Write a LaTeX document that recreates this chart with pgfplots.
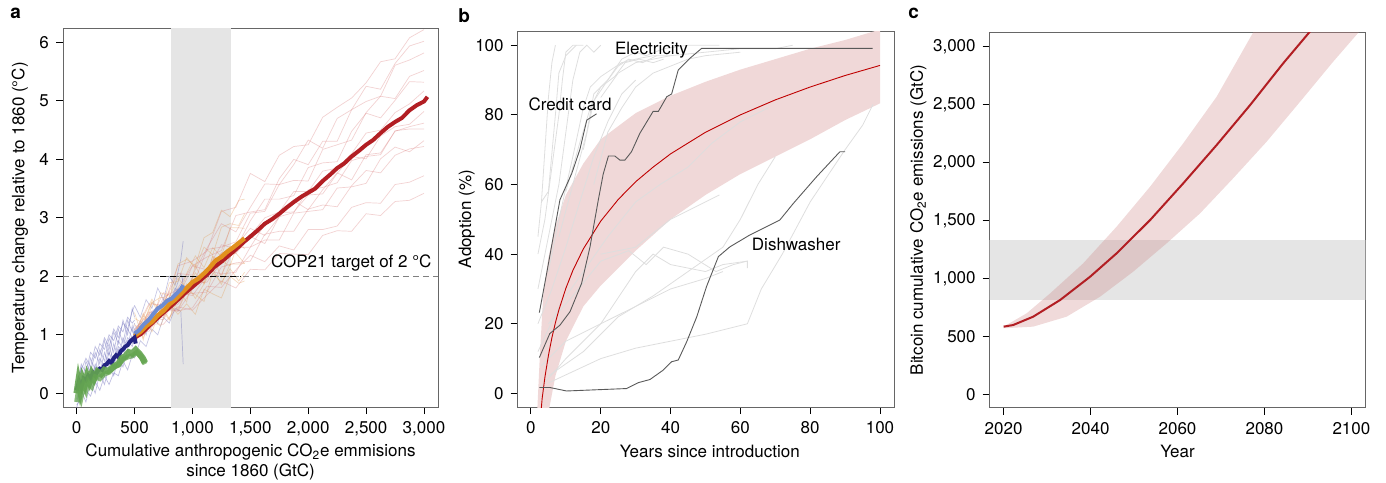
\documentclass[border=0pt]{standalone}
\usepackage{fontspec}
\setmainfont{TeX Gyre Heros}
\usepackage{pgfplots}
\usepackage{pgfplotstable}
\pgfplotsset{compat=1.18}

\definecolor{dred}{RGB}{178,30,35}
\definecolor{faintred}{RGB}{218,125,125}
\definecolor{oran}{RGB}{225,145,30}
\definecolor{faintor}{RGB}{228,155,80}
\definecolor{lblue}{RGB}{110,140,210}
\definecolor{dblue}{RGB}{35,35,130}
\definecolor{faintblue}{RGB}{95,95,180}
\definecolor{grn}{RGB}{100,165,80}
\definecolor{bandpink}{RGB}{240,216,216}
\definecolor{bandc}{RGB}{205,132,132}
\definecolor{bgray}{RGB}{229,229,229}
\definecolor{lgray}{RGB}{222,222,222}

\newcommand\lbl{\fontsize{8.5}{10}\selectfont}

\pgfplotsset{
  panel/.style={
    scale only axis, anchor=south west, clip=true,
    axis line style={draw=black!60, line width=0.5pt},
    tick style={black, line width=0.5pt},
    tick align=outside, major tick length=3.5pt,
    xtick pos=left, ytick pos=left,
    tick label style={font=\lbl},
    label style={font=\lbl},
    /pgf/number format/assume math mode=true,
    /pgf/number format/1000 sep={,},
  },
  faint/.style={line width=0.35pt, opacity=0.35},
}

% panel a ensembles
\pgfplotstableread{
x    r1   r2   r3   r4   r5   r6   r7   r8   r9   r10  r11  r12  r13
500  0.95 1.05 0.85 1.15 0.95 0.95 1.05 0.95 1.10 0.90 1.05 0.95 0.95
625  1.19 1.06 1.28 1.14 1.35 1.14 1.39 1.10 1.21 1.37 1.53 1.15 1.28
750  1.18 1.41 1.26 1.47 1.45 1.45 1.32 1.64 1.72 1.54 1.51 1.44 1.30
875  1.48 1.41 1.68 1.40 1.44 1.52 1.80 1.78 1.62 2.05 2.18 1.73 1.72
1000 1.42 1.46 1.71 1.78 1.99 1.88 2.18 1.82 2.18 2.02 2.26 1.67 1.90
1125 1.68 1.83 1.73 2.11 1.98 1.90 2.11 2.46 2.33 2.48 2.43 2.01 2.00
1250 1.92 1.81 2.16 2.04 2.03 2.24 2.54 2.50 2.44 2.90 3.11 2.40 2.40
1375 1.80 2.11 2.23 2.07 2.52 2.49 2.47 2.59 3.04 2.76 3.18 2.39 2.45
1500 2.12 2.36 2.26 2.50 2.82 2.50 2.95 3.08 3.10 3.18 3.76 2.68 2.70
1625 2.11 2.25 2.72 2.62 2.70 2.89 3.32 3.11 3.14 3.58 3.62 2.56 3.00
1750 2.39 2.52 2.77 2.62 3.02 3.09 3.32 3.57 3.67 3.57 4.07 3.02 3.10
1875 2.38 2.45 2.77 3.08 3.29 3.10 3.38 3.64 4.00 3.91 4.22 3.09 3.45
2000 2.37 2.80 3.15 3.11 3.14 3.39 3.86 3.63 3.91 4.33 4.25 3.48 3.45
2125 2.70 2.80 3.22 3.14 3.48 3.41 3.94 4.17 4.31 4.19 4.72 3.52 3.80
2250 2.78 2.86 3.19 3.51 3.77 3.76 3.96 4.25 4.31 4.70 4.89 3.60 3.85
2375 2.77 3.18 3.55 3.53 3.65 4.05 4.48 4.33 4.85 4.85 5.05 3.98 4.10
2500 3.07 3.26 3.81 3.59 4.08 4.01 4.79 4.80 4.99 5.25 5.31 4.05 4.45
2625 3.04 3.25 3.77 4.01 4.11 4.40 4.71 5.08 5.08 5.20 5.67 4.08 4.50
2750 3.28 3.57 4.07 4.21 4.48 4.56 5.01 5.04 5.61 5.64 5.72 4.49 4.80
2875 3.30 3.61 4.18 4.13 4.56 4.60 5.33 5.42 5.70 5.94 6.08 4.52 4.95
3000 3.42 3.72 4.22 4.32 4.62 4.82 5.32 5.52 5.82 6.02 6.22 4.52 5.17
}\redens

\pgfplotstableread{
x    o1   o2   o3   o4   o5   o6   o7   o8
500  1.18 0.88 1.28 0.98 0.93 1.08 1.38 0.98
575  0.95 1.28 1.20 1.33 1.30 1.17 0.91 1.37
650  1.28 1.18 1.57 1.17 1.61 1.55 1.54 1.05
725  1.15 1.53 1.33 1.72 1.38 1.64 1.47 1.44
800  1.53 1.27 1.65 1.66 1.89 1.62 1.25 1.73
875  1.35 1.62 1.97 1.56 1.91 2.21 1.78 1.41
950  1.53 1.87 1.79 2.05 2.32 2.29 1.56 1.75
1025 1.35 1.62 2.06 2.35 2.14 2.18 2.19 1.69
1100 1.78 1.87 1.88 2.15 2.50 2.66 1.87 1.57
1175 1.70 2.12 2.34 2.49 2.37 2.75 2.35 2.06
1250 1.63 1.86 2.26 2.34 2.84 3.13 1.98 1.90
1325 2.00 2.21 2.18 2.83 2.90 3.02 2.51 2.13
1400 1.88 2.21 2.60 2.83 2.87 3.30 2.34 1.92
1450 1.92 2.22 2.47 2.82 3.07 3.32 2.22 2.07
}\orens

\pgfplotstableread{
x   b1   b2    b3   b4   b5    b6   b10   b11  b12   b13
0   0.10 -0.20 0.00 0.10 -0.10 0.20 -0.25 0.30 0.05  -0.15
40  0.50 -0.10 0.30 0.00 0.20  0.40 0.05  0.10 0.45  0.15
80  0.35 0.05  0.10 0.35 0.15  0.60 -0.15 0.55 0.20  0.05
120 0.70 -0.05 0.45 0.20 0.10  0.45 0.20  0.35 0.60  0.30
160 0.60 0.20  0.25 0.50 0.45  0.80 0.00  0.70 0.40  0.15
200 0.85 0.05  0.60 0.35 0.30  0.65 0.35  0.50 0.75  0.45
240 0.75 0.30  0.45 0.70 0.40  0.95 0.15  0.90 0.55  0.30
280 1.00 0.15  0.80 0.45 0.70  0.80 0.45  0.65 0.95  0.60
320 0.90 0.35  0.55 0.85 0.50  1.10 0.30  1.05 0.70  0.45
360 1.15 0.30  0.90 0.60 0.80  0.95 0.60  0.85 1.10  0.75
400 1.05 0.55  0.75 0.95 0.70  1.20 0.45  1.25 0.85  0.60
440 1.30 0.40  1.10 0.80 0.95  1.10 0.75  1.00 1.25  0.90
480 1.20 0.65  0.95 1.15 0.85  1.40 0.60  1.45 1.05  0.80
500 1.25 0.60  1.00 0.90 1.10  1.50 0.70  1.30 1.20  0.95
}\blueensA

\pgfplotstableread{
x   b7   b8   b9   b14
500 1.50 0.60 1.10 0.90
550 1.30 0.90 1.20 1.15
600 1.60 0.80 1.00 1.05
650 1.45 1.10 1.40 1.35
700 1.80 1.00 1.30 1.20
750 1.60 1.30 1.60 1.55
800 2.00 1.20 1.50 1.45
850 1.85 1.45 1.80 1.75
900 2.30 1.40 1.70 2.05
920 2.60 0.50 2.00 1.90
}\blueensB

\begin{document}
\begin{tikzpicture}
\path[use as bounding box] (0,0) rectangle (693pt,241pt);

% ---------------- panel a
\begin{axis}[panel,
  at={(31.5pt,37.5pt)}, width=187.5pt, height=189pt,
  xmin=-118, xmax=3121, ymin=-0.235, ymax=6.23,
  xtick={0,500,...,3000}, ytick={0,1,...,6},
  xlabel={Cumulative anthropogenic CO\textsubscript{2}e emmisions\\since 1860 (GtC)},
  ylabel={Temperature change relative to 1860 (°C)},
  xlabel style={at={(axis description cs:0.5,-0.145)}, anchor=center, align=center},
  ylabel style={at={(axis description cs:-0.115,0.5)}, anchor=center},
]
\addplot[fill=bgray, draw=none] coordinates {(817,-1) (817,7) (1330,7) (1330,-1)} -- cycle;
\foreach \c in {b1,b2,b3,b4,b5,b6,b10,b11,b12,b13}{
  \addplot[faint, faintblue, opacity=0.4] table[x=x, y=\c] {\blueensA};
}
\foreach \c in {b7,b8,b9,b14}{
  \addplot[faint, faintblue] table[x=x, y=\c] {\blueensB};
}
\foreach \c in {o1,o2,o3,o4,o5,o6,o7,o8}{
  \addplot[faint, faintor] table[x=x, y=\c] {\orens};
}
\foreach \c in {r1,r2,r3,r4,r5,r6,r7,r8,r9,r10,r11,r12,r13}{
  \addplot[faint, faintred] table[x=x, y=\c] {\redens};
}
\addplot[gray, dash pattern=on 3pt off 2pt, line width=0.6pt] coordinates {(-118,2) (3121,2)};
\addplot[black, dash pattern=on 3pt off 2pt, line width=0.6pt] coordinates {(720,2) (1420,2)};
% main runs
\addplot[dred, line width=2pt] coordinates {
(500,0.95)(560,1.02)(625,1.15)(690,1.27)(750,1.38)(810,1.48)(875,1.6)(940,1.72)
(1000,1.82)(1060,1.92)(1125,2.03)(1190,2.16)(1250,2.25)(1310,2.35)(1375,2.46)
(1440,2.58)(1500,2.68)(1560,2.78)(1625,2.9)(1690,2.98)(1750,3.07)(1810,3.17)
(1875,3.27)(1940,3.36)(2000,3.43)(2060,3.5)(2125,3.63)(2190,3.74)(2250,3.85)
(2310,3.93)(2375,4.05)(2440,4.15)(2500,4.25)(2560,4.33)(2625,4.45)(2690,4.56)
(2750,4.64)(2810,4.71)(2875,4.84)(2940,4.93)(3000,4.99)(3030,5.07)};
\addplot[oran, line width=2.2pt] coordinates {
(500,0.98)(550,1.05)(600,1.15)(650,1.22)(700,1.33)(750,1.41)(800,1.52)(850,1.6)
(900,1.7)(950,1.8)(1000,1.9)(1050,1.96)(1100,2.05)(1150,2.15)(1200,2.27)
(1250,2.33)(1300,2.42)(1350,2.49)(1400,2.57)(1450,2.65)};
\addplot[lblue, line width=2pt] coordinates {
(500,1.02)(540,1.08)(580,1.18)(620,1.25)(660,1.35)(700,1.45)(740,1.5)
(780,1.58)(820,1.62)(860,1.7)(900,1.78)(920,1.85)};
\addplot[dblue, line width=2pt] coordinates {
(0,0.05)(20,0.2)(40,0.1)(60,0.25)(80,0.22)(100,0.3)(120,0.25)(140,0.35)
(160,0.3)(180,0.38)(200,0.42)(220,0.4)(240,0.48)(260,0.5)(280,0.55)(300,0.52)
(320,0.6)(340,0.65)(360,0.62)(380,0.72)(400,0.75)(420,0.8)(440,0.82)(460,0.88)
(480,0.92)(500,0.95)(510,0.85)};
\addplot[grn, line width=2.5pt, opacity=0.75] coordinates {
(0,-0.15)(20,0.1)(40,-0.05)(60,0.15)(80,0.05)(100,0.2)(130,0.12)(160,0.28)
(200,0.25)(240,0.33)(280,0.36)(320,0.45)(360,0.48)(400,0.58)(440,0.62)(480,0.64)
(520,0.7)(560,0.62)(590,0.5)};
\addplot[grn, line width=3.2pt, opacity=0.9] coordinates {
(0,0.0)(15,0.2)(30,0.05)(50,0.25)(70,0.15)(90,0.3)(110,0.2)(130,0.33)(150,0.25)
(180,0.37)(210,0.33)(240,0.4)(270,0.38)(300,0.42)(330,0.47)(360,0.5)(390,0.6)
(420,0.63)(450,0.7)(480,0.68)(510,0.74)(540,0.68)(570,0.6)(590,0.52)};
\node[font=\lbl, anchor=south east, inner sep=1pt] at (axis cs:3085,2.04) {COP21 target of 2 °C};
\end{axis}

% ---------------- panel b
\begin{axis}[panel,
  at={(258.85pt,37.5pt)}, width=188.3pt, height=187.85pt,
  xmin=-3.8, xmax=104.1, ymin=-3.9, ymax=104,
  xtick={0,20,...,100}, ytick={0,20,...,100},
  xlabel={Years since introduction},
  ylabel={Adoption (\%)},
  xlabel style={at={(axis description cs:0.51,-0.119)}, anchor=center},
  ylabel style={at={(axis description cs:-0.135,0.5)}, anchor=center},
]
\addplot[fill=bandpink, draw=none] coordinates {
(1.8,-5)(2.5,10)(3.5,28)(5,39)(7,48)(10,57)(15,66)(20,73)(30,80.5)(40,85.5)
(50,89.5)(60,93)(70,96)(80,99)(90,101.5)(100,104.5)
(100,83.3)(90,78.5)(80,73)(70,68)(60,63)(50,57)(40,50)(30,41)(20,31)(15,25)
(10,15)(7,5)(5.1,-5)} -- cycle;
% other technologies
\addplot[lgray, line width=0.4pt] coordinates {(2,45)(3,55)(4,70)(5,85)(6,95)(7,100)};
\addplot[lgray, line width=0.4pt] coordinates {(2,40)(4,50)(6,65)(8,80)(9,90)(10,98)(12,100)(15,100)};
\addplot[lgray, line width=0.4pt] coordinates {(2,30)(5,45)(8,60)(10,75)(12,90)(14,98)(16,100)(18,98)(20,100)};
\addplot[lgray, line width=0.4pt] coordinates {(3,55)(5,58)(7,80)(8,92)(10,97)(13,100)};
\addplot[lgray, line width=0.4pt] coordinates {(5,35)(8,50)(12,68)(15,82)(17,88)(20,91)(23,93)(26,95)(30,96)(35,97)(40,97)};
\addplot[lgray, line width=0.4pt] coordinates {(8,45)(12,60)(16,75)(18,86)(22,90)(25,94)(28,96)(32,95)(36,97)};
\addplot[lgray, line width=0.4pt] coordinates {(10,58)(14,72)(17,82)(20,88)(24,91)(27,95)(31,96)(35,95)(38,96)};
\addplot[lgray, line width=0.4pt] coordinates {(15,70)(18,84)(22,90)(26,96)(30,98)(33,97)(38,99)(45,100)(54,100)};
\addplot[lgray, line width=0.4pt] coordinates {(20,85)(25,92)(30,95)(35,96)(40,97)(50,98)(60,99)(70,99)(75,100)};
\addplot[lgray, line width=0.4pt] coordinates {(3,2)(10,10)(20,20)(30,35)(35,40)(40,37)(50,35)(55,37)(62,38)(62,36)};
\addplot[lgray, line width=0.4pt] coordinates {(5,5)(15,12)(25,22)(35,28)(45,35)(55,42)(60,50)(65,60)(70,68)};
\addplot[lgray, line width=0.4pt] coordinates {(5,20)(12,28)(20,38)(28,41)(33,37)(38,42)(45,40)(53,35)(58,37)(62,38)};
\addplot[lgray, line width=0.4pt] coordinates {(5,3)(20,10)(30,13)(40,15)(50,17)(62,20)(66,30)(72,40)(80,55)(90,70)(95,77)(98,83)};
\addplot[lgray, line width=0.4pt] coordinates {(3,8)(10,15)(20,20)(30,25)(40,30)(50,33)(55,35)};
\addplot[lgray, line width=0.4pt] coordinates {(2,12)(8,25)(15,35)(22,45)(30,55)(37,60)(45,65)(52,72)(60,78)(68,82)};
\addplot[lgray, line width=0.4pt] coordinates {(18,60)(22,75)(26,82)(30,88)(35,92)(40,94)(45,96)(50,97)(60,98)};
\addplot[lgray, line width=0.4pt] coordinates {(2,20)(6,30)(10,42)(14,55)(18,68)(22,78)(26,86)(30,90)};
\addplot[lgray, line width=0.4pt] coordinates {(20,40)(30,42)(40,50)(50,55)(54,57)};
% fitted curve
\addplot[red!75!black, line width=0.45pt] coordinates {
(2.9,-5)(3.2,-1.5)(4,4.7)(5,10.9)(6,16)(7,20.3)(8,24)(10,30.2)(12,35.3)(15,41.5)
(20,49.5)(25,55.7)(30,60.8)(35,65)(40,68.8)(50,75)(60,80)(70,84.3)(80,88)(90,91.3)(100,94.2)};
% highlighted technologies
\addplot[black!65, line width=0.45pt] coordinates {
(2.4,23.2)(4.5,34.5)(8.3,55.6)(11.7,63.2)(14,70)(16,78.5)(18.8,80.3)};
\addplot[black!65, line width=0.45pt] coordinates {
(2.4,10.3)(5.4,17.2)(8.3,19.6)(11.2,23.5)(14.5,31.6)(16.9,42)(19.3,55.6)(20.7,63)
(22.2,68.2)(24,68.2)(25.5,67)(26.9,67)(28.8,69.4)(31.2,74.7)(35,81)(36.5,81)
(38.9,85.2)(40.3,86)(42.2,92.9)(45.6,96.3)(48.9,99.1)(97.9,99.1)};
\addplot[black!65, line width=0.45pt] coordinates {
(2.4,1.7)(5.4,1.7)(10.2,0.7)(27.4,1.4)(30.8,3.1)(34.1,4)(37.9,6.7)(40.3,9.1)
(42.2,9.6)(44.6,14.8)(47.5,22)(50.3,30.7)(53.7,39.3)(57,42.1)(62.7,45.5)
(71.3,49.8)(75.2,54.6)(81.9,62.3)(88.5,69.4)(90,69.4)};
\node[font=\lbl, anchor=west, inner sep=0pt] at (axis cs:-0.8,83) {Credit card};
\node[font=\lbl, anchor=west, inner sep=0pt] at (axis cs:24,98.7) {Electricity};
\node[font=\lbl, anchor=west, inner sep=0pt] at (axis cs:63.2,42.8) {Dishwasher};
\end{axis}

% ---------------- panel c
\begin{axis}[panel,
  at={(494.85pt,37pt)}, width=187.8pt, height=187.85pt,
  xmin=2016.8, xmax=2103.2, ymin=-118, ymax=3124,
  xtick={2020,2040,...,2100}, ytick={0,500,...,3000},
  xticklabel style={/pgf/number format/1000 sep={}},
  xlabel={Year},
  ylabel={Bitcoin cumulative CO\textsubscript{2}e emissions (GtC)},
  xlabel style={at={(axis description cs:0.5,-0.116)}, anchor=center},
  ylabel style={at={(axis description cs:-0.19,0.5)}, anchor=center},
]
\addplot[fill=bgray, draw=none] coordinates {(2010,813) (2110,813) (2110,1330) (2010,1330)} -- cycle;
\addplot[fill=bandc, fill opacity=0.3, draw=none] coordinates {
(2020,584)(2025.3,699)(2030.7,871)(2038.3,1130)(2046,1447)(2053.7,1792)(2061.3,2165)
(2069,2568)(2077.4,3123)(2080,3295)(2104,3300)
(2103.2,3190)(2095.8,2870)(2088.2,2525)(2080.5,2180)(2072.8,1864)(2065.2,1562)
(2057.5,1303)(2049.8,1058)(2042.2,843)(2034.5,670)(2026.8,584)(2020,570)} -- cycle;
\addplot[dred, line width=1pt] coordinates {
(2020,584)(2022.2,598)(2026.8,670)(2033,814)(2039.9,1015)(2046,1217)(2053.7,1504)
(2061.3,1820)(2069,2151)(2076.7,2496)(2084.3,2856)(2090.3,3123)(2091,3160)};
\end{axis}

\node[font=\bfseries\fontsize{9.5}{11}\selectfont, anchor=north west, inner sep=0pt] at (5pt,237pt) {a};
\node[font=\bfseries\fontsize{9.5}{11}\selectfont, anchor=north west, inner sep=0pt] at (229pt,237pt) {b};
\node[font=\bfseries\fontsize{9.5}{11}\selectfont, anchor=north west, inner sep=0pt] at (454pt,237pt) {c};
\end{tikzpicture}
\end{document}
